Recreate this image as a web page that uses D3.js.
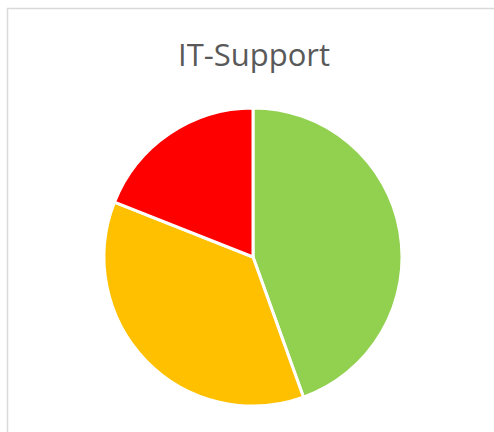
<!DOCTYPE html>
<html>
<head>
<meta charset="utf-8">
<script src="https://cdn.jsdelivr.net/npm/d3@7"></script>
<style>
  body { margin: 0; background: #fff; }
</style>
</head>
<body>
<div id="chart"></div>
<script>
let w = 494;
let h = 432;

// slices, clockwise from 12 o'clock
let categories = ["Green", "Yellow", "Red"];
let values = [44.5, 36.5, 19];
let colors = ["#92D050", "#FFC000", "#FF0000"];

let svg = d3.select("#chart")
  .append("svg")
    .attr("width", w)
    .attr("height", h);

// chart frame (continues past the window)
svg.append("rect")
  .attr("x", 7.5)
  .attr("y", 8.5)
  .attr("width", w + 20)
  .attr("height", h + 20)
  .attr("fill", "white")
  .attr("stroke", "#d9d9d9")
  .attr("stroke-width", 1.5);

svg.append("text")
  .attr("x", 254)
  .attr("y", 66)
  .attr("text-anchor", "middle")
  .attr("font-family", "'Open Sans', sans-serif")
  .attr("font-size", "31px")
  .attr("fill", "#595959")
  .text("IT-Support");

let data = categories.map((c, i) => ({name: c, value: values[i], color: colors[i]}));

let pie = d3.pie().sort(null).value(d => d.value);
let arc = d3.arc().innerRadius(0).outerRadius(149);

let g = svg.append("g")
  .attr("transform", "translate(253,257)");

g.selectAll("path")
  .data(pie(data))
  .enter()
  .append("path")
    .attr("d", arc)
    .attr("fill", d => d.data.color)
    .attr("stroke", "white")
    .attr("stroke-width", 3);
</script>
</body>
</html>
